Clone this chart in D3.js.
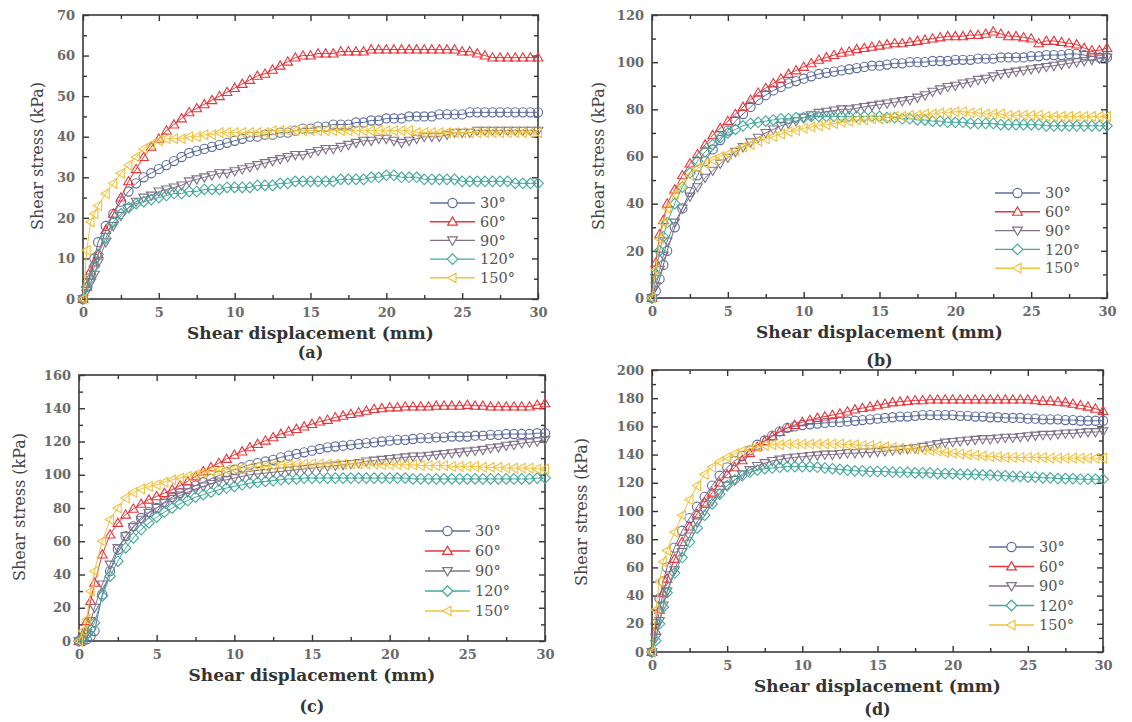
<!DOCTYPE html>
<html>
<head>
<meta charset="utf-8">
<script src="https://cdn.jsdelivr.net/npm/d3@7"></script>
<style>
  html, body { margin: 0; padding: 0; background: #fff; }
  svg { display: block; }
</style>
</head>
<body>
<svg id="chart" width="1132" height="722"></svg>
<script>
// ---------------- DATA ----------------
const seriesNames = ["30°", "60°", "90°", "120°", "150°"];
const disp = [0,0.25,0.5,0.75,1,1.5,2,2.5,3,3.5,4,4.5,5,5.5,6,6.5,7,7.5,8,8.5,9,9.5,10,10.5,11,11.5,12,12.5,13,13.5,14,14.5,15,15.5,16,16.5,17,17.5,18,18.5,19,19.5,20,20.5,21,21.5,22,22.5,23,23.5,24,24.5,25,25.5,26,26.5,27,27.5,28,28.5,29,29.5,30];
const xTicks = [0, 5, 10, 15, 20, 25, 30];
const xMinorTicks = [2.5, 7.5, 12.5, 17.5, 22.5, 27.5];

// panel (a)
const a30  = [0,3,6,10, 14,18,21,24,26.5,28.5,30,31,32,33, 34,35,36,36.5,37,37.5,38,38.5,39,39.5, 40,40,40.5,40.5,41,41,41.5,42,42,42.5, 42.5,43,43,43,43.5,43.5,44,44,44.5,44.5, 44.5,45,45,45,45,45.5,45.5,45.5,45.5,46, 46,46,46,46,46,46,46,46,46];
const a60  = [0,3,7,9, 11,17,21,25,29,32,35,37.5,39.5,41.5, 43,44.5,46,47,48,49,50,51,52,53, 54,55,55.5,56.5,57.5,58.5,59.5,60,60,60.5, 60.5,60.5,61,61,61,61,61.5,61.5,61.5,61.5, 61.5,61.5,61.5,61.5,61.5,61.5,61.5,61.5,61,61, 60.5,60,59.5,59.5,59.5,59.5,59.5,59.5,59.5];
const a90  = [0,2,4,6, 9,14,18,20.5,22.5,24,25,25.5,26.5,27, 27.5,28,29,29.5,30,30.5,31,31,31.5,32, 32.5,33,33.5,34,34.5,35,35.5,35.5,36,36.5, 37,37,37.5,38,38.5,39,39,39.5,39.5,39, 38.5,39,39.5,40,40,40,40.5,41,41,41, 41.5,41.5,41.5,41.5,41.5,41.5,41.5,41.5,41.5];
const a120 = [0,3,5,8, 11,15,19,21,22.5,23.5,24,24.5,25,25.5, 26,26,26.5,26.5,27,27,27,27.5,27.5,27.5, 27.5,28,28,28,28.5,28.5,29,29,29,29, 29,29,29.5,29.5,29.5,29.5,30,30,30.5,30.5, 30,30,30,29.5,29.5,29.5,29.5,29.5,29,29, 29,29,29,29,29,28.5,28.5,28.5,28.5];
const a150 = [0,12,19,21, 23,26,28.5,31,33,35,37,38,39,39.5, 39.5,39.5,40,40,40.5,40.5,41,41,41,41, 41,41,41,41.5,41.5,41.5,41.5,41.5,41.5,41.5, 41.5,41.5,41.5,41.5,41.5,41.5,41.5,41.5,41.5,41.5, 41.5,41.5,41,41,41,41,41,41,41,41, 41,41,41,41,41,41,41,41,41];
const aTicks = [0, 10, 20, 30, 40, 50, 60, 70];

// panel (b)
const b30  = [0,3,8,14, 20,30,38,45,52,58,63,67,71,75, 78,81,84,86,88,89.5,91,92,93,94, 95,95.5,96,96.5,97,97.5,98,98.5,98.5,99, 99.5,99.5,100,100,100,100.5,100.5,100.5,101,101, 101,101.5,101.5,101.5,102,102,102,102,102.5,102.5, 103,103,103,103.5,103.5,103,102.5,102,102];
const b60  = [0,15,27,33, 40,46,52,57,61,65,69,72,75,78, 81,84,87,89,91,93,95,96.5,98,99.5, 101,102,103,104,104.5,105.5,106,106.5,107,107.5, 108,108,108.5,109,109.5,110,110.5,111,111,111, 111.5,111.5,112,113,112,111,111,110.5,110,108, 109,109,108.5,108,107.5,106,105,105,106];
const b90  = [0,5,12,18, 24,32,38,43,47,51,54,57,59.5,62, 64,66,68,70,71.5,73,74,75,76.5,77.5, 78.5,79,79.5,80,80,80.5,81,81.5,82,82.5, 83,83.5,84,85,86,87.5,88.5,89.5,90,91, 91.5,92.5,93,94,95,95.5,96,96.5,97,97.5, 98,98.5,99,99.5,100,100.5,101,101.5,102];
const b120 = [0,10,20,26, 32,40,47,53,58,62,65,68,70,71.5, 73,74,74.5,75,75.5,76,76,76.5,76.5,77, 77,77,77,77,77,77,77,77,77,76.5, 76.5,76,76,75.5,75.5,75,75,74.5,74.5,74.5, 74,74,74,74,73.5,73.5,73.5,73.5,73.5,73.5, 73,73,73,73,73,73,73,73,73];
const b150 = [0,12,25,32, 38,44,48,52,55,57,58.5,60,61,62.5, 64,65,66.5,67.5,68.5,69.5,70.5,71,72,72.5, 73,73.5,74,74.5,75,75.5,75.5,76,76,76.5, 77,77,77.5,77.5,78,78,78.5,78.5,79,79, 78.5,78.5,78,78,78,77.5,77.5,77.5,77.5,77.5, 77,77,77,77,77,77,77,77,77];
const bTicks = [0, 20, 40, 60, 80, 100, 120];

// panel (c)
const c30  = [0,0,1,3, 6,28,42,55,63,69,74,77.5,80,83.5, 86.5,89,91.5,93.5,95.5,97.5,99.5,101.5,103,104.5, 106,107,108,109,110.5,111.5,112.5,113.5,114.5,115.5, 116.5,117,117.5,118,118.5,119,119.5,120,120.5,121, 121,121.5,122,122,122.5,122.5,123,123,123,123.5, 123.5,124,124,124.5,124.5,124.5,124.5,125,125];
const c60  = [0,4,12,24, 35,52,64,71,76,79.5,82.5,85,87,89, 91,93.5,96,99,102,104.5,107,109.5,112,114, 116.5,118.5,120.5,122.5,124.5,126,127.5,129,130.5,132, 133,134.5,135.5,136.5,137.5,138.5,139.5,140,140.5,140.5, 141,141,141,141,141.5,141.5,141.5,141.5,142,141.5, 141.5,141,141,141,141,141,141,142,143];
const c90  = [0,1,5,12, 20,34,46,56,63,68.5,73,77,80,83, 85.5,87.5,89.5,91.5,93,94.5,96,97,98,99, 100,100.5,101,101.5,102,102.5,103,103.5,104,104.5, 105,105.5,106,106.5,107,108,108.5,109,109.5,110, 110.5,111,111,111.5,112,112.5,113,113.5,114,114.5, 115,116,116.5,117.5,118,119,119.5,120,121];
const c120 = [0,1,4,7, 11,27,39,48,56,62,67,71,74.5,77.5, 80,82.5,84.5,86.5,88,89.5,91,92,93,94, 95,95.5,96,96.5,97,97.5,97.5,98,98,98, 98,98,98,98,98,98,98,98,98,98, 98,97.5,97.5,97.5,97.5,97.5,97.5,97.5,97.5,97.5, 97.5,97.5,97.5,97.5,97.5,97.5,97.5,98,98];
const c150 = [0,6,13,30, 42,60,73,80,86,89.5,91.5,93,94,95.5, 97,98,99,100,101,102,102.5,103,103.5,104, 104.5,105,105,105.5,106,106,106.5,106.5,106.5,106.5, 106.5,106.5,106.5,106.5,106.5,106.5,106.5,106,106,106, 106,106,105.5,105.5,105.5,105.5,105,105,105,105, 104.5,104.5,104.5,104,104,104,104,103.5,103.5];
const cTicks = [0, 20, 40, 60, 80, 100, 120, 140, 160];

// panel (d)
const d30  = [0,20,38,50, 60,74,86,95,103,110,118,125,131,135.5, 139,143,147,150,153.5,156.5,159,160,161,161.5, 162,162.5,163,163,163.5,164,164.5,165,165.5,166, 166.5,167,167,167.5,168,168,168,168,168,167.5, 167.5,167,167,166.5,166.5,166,166,166,165.5,165.5, 165,165,165,164.5,164.5,164,164,164,164];
const d60  = [0,15,30,42, 52,66,78,89,98,106,113,120,126,131, 136,141,145.5,149.5,153,156,159,161,163,164.5, 166,167,168,169,170.5,172,173,174,175,176, 177,177.5,178,178.5,178.5,179,179,179,179,179, 179,179,179,179,179,179,179,179,179,178.5, 178,178,177.5,177,176,175,174,172.5,171];
const d90  = [0,10,22,33, 43,58,71,82,92,100,107,113,118,122, 126,129,132,134,135.5,136.5,137.5,138,138.5,139, 139.5,140,140,140.5,141,141,141.5,141.5,142,142.5, 143,143.5,144,144.5,145.5,146.5,147.5,148.5,149,149.5, 150,150.5,151,151,151.5,152,152,152.5,153,153.5, 154,154,154.5,155,155,155.5,156,156,156.5];
const d120 = [0,8,20,32, 42,56,67,78,88,97,105,112,118,122, 125,127.5,129,130,130.5,131,131.5,131.5,131.5,131.5, 131,130.5,130,129.5,129,128.5,128.5,128,128,128, 127.5,127.5,127.5,127,127,127,126.5,126.5,126.5,126, 126,126,125.5,125.5,125,125,124.5,124.5,124,124, 123.5,123.5,123,123,123,122.5,122.5,122.5,122.5];
const d150 = [0,30,50,64, 72,85,97,108,118,126,131,135,138,140.5, 142.5,144,145.5,146.5,147,147,147.5,147.5,147.5,147.5, 147.5,147.5,147.5,147.5,147,147,146.5,146.5,146,145.5, 145,144.5,144.5,144,143.5,143,142.5,141.5,141,140.5, 140,139.5,139,138.5,138.5,138,138,138,138,138, 138,137.5,137.5,137.5,137.5,137.5,137.5,137.5,137.5];
const dTicks = [0, 20, 40, 60, 80, 100, 120, 140, 160, 180, 200];

const panelLabels = ["(a)", "(b)", "(c)", "(d)"];

// ---------------- STYLE / LAYOUT ----------------
const colors = ["#5d6c9c", "#e6363c", "#7f7289", "#45a99c", "#f0c23e"];
const symbolKinds = ["circle", "up", "down", "diamond", "left"];

const panels = [
  { series: [a30, a60, a90, a120, a150], yTicks: aTicks, yMinorStep: 5,
    box: { l: 83, r: 538, t: 15, b: 299 }, legend: { x: 430, y: 203, dy: 18.7 },
    yTitle: { x: 37, y: 156 }, label: panelLabels[0], labelY: 352 },
  { series: [b30, b60, b90, b120, b150], yTicks: bTicks, yMinorStep: 10,
    box: { l: 652, r: 1107, t: 15, b: 298 }, legend: { x: 995, y: 193, dy: 18.8 },
    yTitle: { x: 598, y: 156 }, label: panelLabels[1], labelY: 360 },
  { series: [c30, c60, c90, c120, c150], yTicks: cTicks, yMinorStep: 10,
    box: { l: 79, r: 545, t: 375, b: 641 }, legend: { x: 425, y: 531, dy: 20 },
    yTitle: { x: 19, y: 507 }, label: panelLabels[2], labelY: 706 },
  { series: [d30, d60, d90, d120, d150], yTicks: dTicks, yMinorStep: 10,
    box: { l: 652, r: 1103, t: 370, b: 652 }, legend: { x: 989, y: 547, dy: 19.5 },
    yTitle: { x: 581, y: 512 }, label: panelLabels[3], labelY: 709 }
];

function markerPath(kind, s) {
  switch (kind) {
    case "circle":
      return `M${-s},0A${s},${s} 0 1,0 ${s},0A${s},${s} 0 1,0 ${-s},0Z`;
    case "up":
      return `M0,${-s*1.05}L${s*1.05},${s*0.75}L${-s*1.05},${s*0.75}Z`;
    case "down":
      return `M0,${s*1.05}L${s*1.05},${-s*0.75}L${-s*1.05},${-s*0.75}Z`;
    case "diamond":
      return `M0,${-s*1.15}L${s*1.15},0L0,${s*1.15}L${-s*1.15},0Z`;
    case "left":
      return `M${-s*1.05},0L${s*0.75},${-s*1.05}L${s*0.75},${s*1.05}Z`;
  }
}

const svg = d3.select("#chart");
const tickFont = "DejaVu Serif, serif";

panels.forEach(p => {
  const { l, r, t, b } = p.box;
  const yMax = p.yTicks[p.yTicks.length - 1];
  const x = d3.scaleLinear().domain([0, 30]).range([l, r]);
  const y = d3.scaleLinear().domain([0, yMax]).range([b, t]);
  const g = svg.append("g");

  const yMinor = d3.range(p.yMinorStep, yMax, p.yMinorStep * 2);

  g.append("g").attr("transform", `translate(0,${b})`)
    .call(d3.axisBottom(x).tickValues(xTicks).tickSizeInner(-6).tickSizeOuter(0).tickPadding(9));
  g.append("g").attr("transform", `translate(0,${b})`)
    .call(d3.axisBottom(x).tickValues(xMinorTicks).tickSizeInner(-4).tickSizeOuter(0).tickFormat(""));
  g.append("g").attr("transform", `translate(0,${t})`)
    .call(d3.axisTop(x).tickValues(xTicks).tickSizeInner(-6).tickSizeOuter(0).tickFormat(""));
  g.append("g").attr("transform", `translate(0,${t})`)
    .call(d3.axisTop(x).tickValues(xMinorTicks).tickSizeInner(-4).tickSizeOuter(0).tickFormat(""));
  g.append("g").attr("transform", `translate(${l},0)`)
    .call(d3.axisLeft(y).tickValues(p.yTicks).tickSizeInner(-6).tickSizeOuter(0).tickPadding(8));
  g.append("g").attr("transform", `translate(${l},0)`)
    .call(d3.axisLeft(y).tickValues(yMinor).tickSizeInner(-4).tickSizeOuter(0).tickFormat(""));
  g.append("g").attr("transform", `translate(${r},0)`)
    .call(d3.axisRight(y).tickValues(p.yTicks).tickSizeInner(-6).tickSizeOuter(0).tickFormat(""));
  g.append("g").attr("transform", `translate(${r},0)`)
    .call(d3.axisRight(y).tickValues(yMinor).tickSizeInner(-4).tickSizeOuter(0).tickFormat(""));

  g.selectAll(".domain").remove();
  g.selectAll(".tick line").attr("stroke", "#333").attr("stroke-width", 1.4);
  g.selectAll(".tick text")
    .attr("font-family", tickFont).attr("font-size", 13).attr("font-weight", "bold")
    .attr("fill", "#6a6a6a");

  g.append("rect").attr("x", l).attr("y", t).attr("width", r - l).attr("height", b - t)
    .attr("fill", "none").attr("stroke", "#3a3a3a").attr("stroke-width", 1.6);

  const line = d3.line().x((d, i) => x(disp[i])).y(d => y(d));
  p.series.forEach((vals, si) => {
    const sg = g.append("g");
    sg.append("path").datum(vals).attr("d", line)
      .attr("fill", "none").attr("stroke", colors[si]).attr("stroke-width", 1);
    sg.selectAll("path.m").data(vals).enter().append("path")
      .attr("class", "m")
      .attr("transform", (d, i) => `translate(${x(disp[i])},${y(d)})`)
      .attr("d", markerPath(symbolKinds[si], 4.6))
      .attr("fill", "none").attr("stroke", colors[si]).attr("stroke-width", 1.1);
  });

  seriesNames.forEach((name, si) => {
    const ly = p.legend.y + si * p.legend.dy;
    const lx = p.legend.x;
    g.append("line").attr("x1", lx).attr("x2", lx + 45).attr("y1", ly).attr("y2", ly)
      .attr("stroke", colors[si]).attr("stroke-width", 1.4);
    g.append("path").attr("transform", `translate(${lx + 22.5},${ly})`)
      .attr("d", markerPath(symbolKinds[si], 4.6))
      .attr("fill", "#fff").attr("stroke", colors[si]).attr("stroke-width", 1.2);
    g.append("text").attr("x", lx + 50).attr("y", ly).attr("dy", "0.36em")
      .attr("font-family", "DejaVu Serif, serif").attr("font-size", 14.5)
      .attr("fill", "#555").text(name);
  });

  g.append("text").attr("x", (l + r) / 2).attr("y", b + 40)
    .attr("text-anchor", "middle").attr("font-family", "DejaVu Serif, serif")
    .attr("font-weight", "bold").attr("font-size", 17).attr("fill", "#333")
    .text("Shear displacement (mm)");
  g.append("text").attr("transform", `translate(${p.yTitle.x},${p.yTitle.y}) rotate(-90)`)
    .attr("text-anchor", "middle").attr("dy", "0.35em")
    .attr("font-family", "DejaVu Serif, serif").attr("font-size", 16)
    .attr("fill", "#444").text("Shear stress (kPa)");
  g.append("text").attr("x", (l + r) / 2).attr("y", p.labelY).attr("dy", "0.35em")
    .attr("text-anchor", "middle").attr("font-family", "DejaVu Serif, serif")
    .attr("font-weight", "bold").attr("font-size", 16).attr("fill", "#333")
    .text(p.label);
});
</script>
</body>
</html>
